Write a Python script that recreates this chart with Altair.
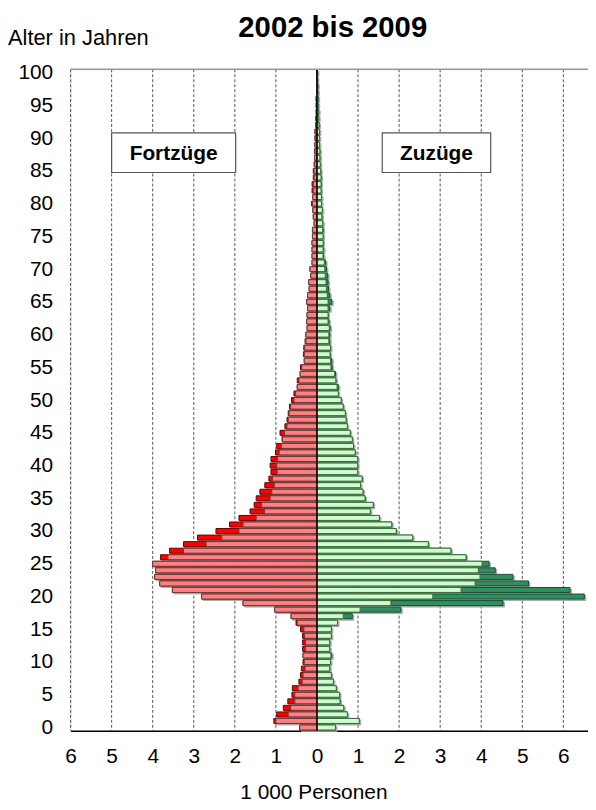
import altair as alt
import pandas as pd

# ---------------- data ----------------
ages = list(range(101))

# Fortzüge (left side), 1 000 Personen
fort_light = [0.42, 1.00, 0.70, 0.64, 0.54, 0.54, 0.46, 0.36, 0.34, 0.29,
              0.31, 0.34, 0.28, 0.28, 0.30, 0.32, 0.48, 0.63, 1.03, 1.80,
              2.81, 3.52, 3.83, 3.95, 3.93, 4.00, 3.63, 3.25, 2.70, 2.32,
              1.90, 1.80, 1.48, 1.28, 1.35, 1.14, 1.10, 1.04, 1.08, 0.97,
              0.98, 0.96, 0.92, 0.87, 0.84, 0.79, 0.73, 0.70, 0.68, 0.64,
              0.56, 0.52, 0.48, 0.44, 0.41, 0.37, 0.31, 0.31, 0.30, 0.27,
              0.27, 0.24, 0.25, 0.24, 0.23, 0.25, 0.23, 0.19, 0.20, 0.15,
              0.17, 0.12, 0.12, 0.12, 0.12, 0.11, 0.11, 0.07, 0.09, 0.10,
              0.11, 0.10, 0.09, 0.09, 0.07, 0.07, 0.06, 0.06, 0.05, 0.05,
              0.04, 0.04, 0.03, 0.03, 0.02, 0.02, 0.02, 0.01, 0.01, 0.01,
              0.01]
fort_total = [0.42, 1.05, 0.98, 0.82, 0.71, 0.61, 0.60, 0.44, 0.40, 0.38,
              0.34, 0.34, 0.35, 0.35, 0.35, 0.40, 0.51, 0.63, 1.03, 1.80,
              2.81, 3.52, 3.83, 3.95, 3.93, 4.00, 3.81, 3.59, 3.25, 2.91,
              2.46, 2.13, 1.90, 1.63, 1.53, 1.48, 1.39, 1.27, 1.17, 1.12,
              1.14, 1.12, 1.01, 0.98, 0.85, 0.90, 0.78, 0.73, 0.70, 0.67,
              0.62, 0.56, 0.48, 0.48, 0.41, 0.40, 0.31, 0.33, 0.32, 0.29,
              0.27, 0.24, 0.25, 0.24, 0.23, 0.25, 0.23, 0.19, 0.20, 0.15,
              0.17, 0.12, 0.12, 0.12, 0.12, 0.11, 0.11, 0.07, 0.09, 0.10,
              0.13, 0.10, 0.12, 0.12, 0.09, 0.09, 0.07, 0.06, 0.06, 0.05,
              0.05, 0.05, 0.03, 0.03, 0.02, 0.02, 0.02, 0.01, 0.01, 0.01,
              0.01]

# Zuzüge (right side), 1 000 Personen
zuz_light = [0.45, 1.03, 0.74, 0.65, 0.56, 0.55, 0.47, 0.40, 0.35, 0.31,
             0.33, 0.34, 0.31, 0.31, 0.35, 0.35, 0.50, 0.64, 1.05, 1.80,
             2.82, 3.51, 3.85, 3.97, 3.93, 4.02, 3.63, 3.26, 2.71, 2.33,
             1.93, 1.82, 1.52, 1.30, 1.37, 1.17, 1.12, 1.06, 1.10, 0.99,
             0.99, 0.99, 0.93, 0.89, 0.86, 0.81, 0.74, 0.71, 0.69, 0.64,
             0.59, 0.52, 0.49, 0.46, 0.43, 0.34, 0.33, 0.32, 0.33, 0.29,
             0.29, 0.30, 0.27, 0.27, 0.27, 0.27, 0.25, 0.23, 0.22, 0.20,
             0.19, 0.18, 0.15, 0.15, 0.15, 0.15, 0.14, 0.14, 0.12, 0.13,
             0.11, 0.11, 0.10, 0.10, 0.10, 0.09, 0.08, 0.07, 0.07, 0.06,
             0.06, 0.06, 0.05, 0.04, 0.04, 0.03, 0.03, 0.02, 0.02, 0.01,
             0.01]
zuz_total = [0.45, 1.03, 0.74, 0.65, 0.56, 0.55, 0.47, 0.40, 0.35, 0.31,
             0.33, 0.36, 0.31, 0.31, 0.35, 0.35, 0.50, 0.86, 2.04, 4.53,
             6.51, 6.16, 5.15, 4.77, 4.34, 4.19, 3.63, 3.26, 2.71, 2.33,
             1.93, 1.82, 1.52, 1.30, 1.37, 1.17, 1.12, 1.06, 1.10, 0.99,
             0.99, 0.99, 0.93, 0.89, 0.86, 0.81, 0.74, 0.71, 0.69, 0.64,
             0.59, 0.52, 0.52, 0.46, 0.45, 0.37, 0.36, 0.32, 0.33, 0.31,
             0.31, 0.32, 0.29, 0.27, 0.31, 0.36, 0.31, 0.28, 0.27, 0.26,
             0.23, 0.21, 0.16, 0.16, 0.15, 0.15, 0.15, 0.14, 0.12, 0.13,
             0.11, 0.11, 0.10, 0.10, 0.10, 0.09, 0.08, 0.07, 0.07, 0.06,
             0.06, 0.06, 0.05, 0.04, 0.04, 0.03, 0.03, 0.02, 0.02, 0.01,
             0.01]

x_ticks = [-6, -5, -4, -3, -2, -1, 0, 1, 2, 3, 4, 5, 6]
grid_vals = [-6, -5, -4, -3, -2, -1, 1, 2, 3, 4, 5, 6]
y_ticks = list(range(0, 101, 5))
box_labels = ["Fortzüge", "Zuzüge"]

# ---------------- styling / layout ----------------
FONT = "Liberation Sans"
W, H = 521, 666
HALF = 0.38
xs = alt.Scale(domain=[-6, 6.6], nice=False, zero=False)
ys = alt.Scale(domain=[-0.5, 100.5], nice=False, zero=False)

x_axis = alt.Axis(values=x_ticks, labelExpr="format(abs(datum.value), 'd')",
                  ticks=False, tickSize=0, grid=False, domainColor="black",
                  domainWidth=1.5, labelFont=FONT, labelFontSize=21,
                  labelColor="black", labelPadding=15, labelFlush=False,
                  labelOverlap=False, title=None)
y_axis = alt.Axis(values=y_ticks, ticks=False, tickSize=0, domain=False,
                  grid=False, labelFont=FONT, labelFontSize=21,
                  labelColor="black", labelPadding=18, labelFlush=False,
                  labelOverlap=False, title=None)


def bar_df(vals, sign):
    return pd.DataFrame({
        "age": ages,
        "x": [sign * v for v in vals],
        "x2": [0.0] * len(ages),
        "y1": [a - HALF for a in ages],
        "y2": [a + HALF for a in ages],
    })


def bars(df, fill, stroke, **kw):
    return alt.Chart(df).mark_rect(fill=fill, stroke=stroke, strokeWidth=1, **kw).encode(
        x=alt.X("x:Q", scale=xs, axis=x_axis),
        x2="x2:Q",
        y=alt.Y("y1:Q", scale=ys, axis=y_axis),
        y2="y2:Q",
    )


fort_max = [max(a, b) for a, b in zip(fort_light, fort_total)]
zuz_max = [max(a, b) for a, b in zip(zuz_light, zuz_total)]

grid = alt.Chart(pd.DataFrame({"x": grid_vals})).mark_rule(
    color="#555555", strokeWidth=1, strokeDash=[3, 2]
).encode(x=alt.X("x:Q", scale=xs, axis=x_axis))

shadow_kw = dict(xOffset=1.5, x2Offset=1.5, yOffset=1.5, y2Offset=1.5, opacity=0.9)
shadow_l = bars(bar_df(fort_max, -1), "#a0a0a0", "#a0a0a0", **shadow_kw)
shadow_r = bars(bar_df(zuz_max, 1), "#a0a0a0", "#a0a0a0", **shadow_kw)

dark_l = bars(bar_df(fort_total, -1), "#FF0000", "#6b0000")
dark_r = bars(bar_df(zuz_total, 1), "#2F8F5F", "#1b4d33")
light_l = bars(bar_df(fort_light, -1), "#FF8080", "#6a3a3a")
light_r = bars(bar_df(zuz_light, 1), "#CCFFCC", "#3f6a3f")

zero_line = alt.Chart(pd.DataFrame({"x": [0]})).mark_rule(
    color="black", strokeWidth=1.5
).encode(x=alt.X("x:Q", scale=xs, axis=x_axis))

top_border = alt.Chart(pd.DataFrame({"y": [100.5]})).mark_rule(
    color="#999999", strokeWidth=1.5
).encode(y=alt.Y("y:Q", scale=ys, axis=y_axis))

# annotation boxes (data coordinates)
boxes_df = pd.DataFrame({
    "label": box_labels,
    "bx1": [-5.0, 1.59],
    "bx2": [-1.98, 4.23],
    "by1": [84.75, 84.75],
    "by2": [90.8, 90.8],
})
boxes_df["cx"] = (boxes_df["bx1"] + boxes_df["bx2"]) / 2
boxes_df["cy"] = (boxes_df["by1"] + boxes_df["by2"]) / 2

box_rects = alt.Chart(boxes_df).mark_rect(
    fill="white", stroke="#555555", strokeWidth=1.2
).encode(
    x=alt.X("bx1:Q", scale=xs, axis=x_axis), x2="bx2:Q",
    y=alt.Y("by1:Q", scale=ys, axis=y_axis), y2="by2:Q",
)
box_text = alt.Chart(boxes_df).mark_text(
    font=FONT, fontSize=21, fontWeight="bold", color="black",
    align="center", baseline="middle", dy=1
).encode(
    x=alt.X("cx:Q", scale=xs, axis=x_axis),
    y=alt.Y("cy:Q", scale=ys, axis=y_axis),
    text="label:N",
)

title_txt = alt.Chart(pd.DataFrame({"t": ["2002 bis 2009"]})).mark_text(
    font=FONT, fontSize=29.5, fontWeight="bold", color="black",
    align="center", baseline="alphabetic"
).encode(text="t:N", x=alt.value(264), y=alt.value(-32.5))

ylab_txt = alt.Chart(pd.DataFrame({"t": ["Alter in Jahren"]})).mark_text(
    font=FONT, fontSize=22, color="black", align="left", baseline="alphabetic"
).encode(text="t:N", x=alt.value(-63), y=alt.value(-25))

xlab_txt = alt.Chart(pd.DataFrame({"t": ["1 000 Personen"]})).mark_text(
    font=FONT, fontSize=21, color="black", align="center", baseline="alphabetic"
).encode(text="t:N", x=alt.value(245), y=alt.value(734.5))

chart = alt.layer(
    grid, shadow_l, shadow_r, dark_l, dark_r, light_l, light_r,
    zero_line, top_border, box_rects, box_text,
    title_txt, ylab_txt, xlab_txt,
).properties(
    width=W, height=H,
    padding={"left": 63, "top": 59, "right": 0, "bottom": 75},
    autosize=alt.AutoSizeParams(type="none"),
).configure_view(stroke=None).configure(background="white")

chart.save("out.html", embed_options={"renderer": "svg", "actions": False})
